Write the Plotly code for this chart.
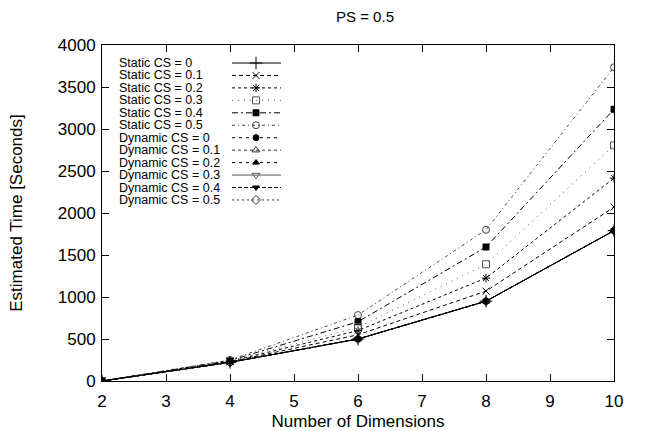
import plotly.graph_objects as go

dims = [2, 4, 6, 8, 10]
static_cs0 = [0, 222, 500, 950, 1790]
static_cs01 = [0, 228, 550, 1070, 2070]
static_cs02 = [0, 233, 600, 1225, 2415]
static_cs03 = [0, 238, 640, 1390, 2805]
static_cs04 = [0, 243, 705, 1595, 3235]
static_cs05 = [0, 250, 785, 1800, 3735]
dynamic_cs0 = [0, 222, 500, 950, 1790]
dynamic_cs01 = [0, 222, 500, 950, 1790]
dynamic_cs02 = [0, 222, 500, 950, 1790]
dynamic_cs03 = [0, 222, 500, 950, 1790]
dynamic_cs04 = [0, 222, 500, 950, 1790]
dynamic_cs05 = [0, 222, 500, 950, 1790]

labels = ["Static CS = 0", "Static CS = 0.1", "Static CS = 0.2", "Static CS = 0.3",
          "Static CS = 0.4", "Static CS = 0.5", "Dynamic CS = 0", "Dynamic CS = 0.1",
          "Dynamic CS = 0.2", "Dynamic CS = 0.3", "Dynamic CS = 0.4", "Dynamic CS = 0.5"]
series = [static_cs0, static_cs01, static_cs02, static_cs03, static_cs04, static_cs05,
          dynamic_cs0, dynamic_cs01, dynamic_cs02, dynamic_cs03, dynamic_cs04, dynamic_cs05]

styles = [
    ("solid", "cross-thin", "#000", 9),
    ("4px,3px", "x-thin", "#000", 7),
    ("3px,3px", "asterisk", "#000", 7),
    ("1px,5px", "square-open", "#555", 7),
    ("6px,3px,2px,3px", "square", "#000", 6),
    ("3px,3px,1px,3px", "circle-open", "#444", 7),
    ("3px,4px", "circle", "#000", 6),
    ("3px,3px", "triangle-up-open", "#333", 7),
    ("3px,4px", "triangle-up", "#000", 6),
    ("solid", "triangle-down-open", "#555", 7),
    ("4px,2px", "triangle-down", "#000", 6),
    ("2px,3px", "diamond-open", "#333", 7),
]

fig = go.Figure()
for i in range(11, -1, -1):
    dash, sym, col, sz = styles[i]
    fig.add_trace(go.Scatter(
        x=dims, y=series[i], mode="lines+markers", name=labels[i],
        line=dict(color=col, width=1, dash=dash),
        marker=dict(symbol=sym, size=sz, color=col, line=dict(color=col, width=1)),
        showlegend=False))

# custom legend (text left, sample right) on overlay axes in pixel-like units
L, R, T, B = 102, 614, 45, 381
for i, lab in enumerate(labels):
    dash, sym, col, sz = styles[i]
    py = 63 + i * 12.45
    yv = B - py
    fig.add_trace(go.Scatter(
        x=[232 - L, 281 - L], y=[yv, yv], mode="lines", xaxis="x2", yaxis="y2",
        line=dict(color=col, width=1, dash=dash), showlegend=False, hoverinfo="skip"))
    fig.add_trace(go.Scatter(
        x=[256 - L], y=[yv], mode="markers", xaxis="x2", yaxis="y2",
        marker=dict(symbol=sym, size=sz, color=col, line=dict(color=col, width=1)),
        showlegend=False, hoverinfo="skip"))
    fig.add_annotation(x=117 - L, y=yv, xref="x2", yref="y2", text=lab,
                       showarrow=False, xanchor="left", yanchor="middle",
                       font=dict(size=12.5, color="#000"))

fig.update_layout(
    width=645, height=431,
    margin=dict(l=L, r=645 - R, t=T, b=431 - B, autoexpand=False),
    paper_bgcolor="white", plot_bgcolor="white",
    font=dict(family="Liberation Sans, Arial, sans-serif", color="#000"),
    title=dict(text="PS = 0.5", x=365 / 645, xanchor="center", y=1 - 17 / 431,
               yanchor="middle", font=dict(size=15)),
    xaxis=dict(range=[2, 10], tickvals=[2, 3, 4, 5, 6, 7, 8, 9, 10], automargin=False,
               ticks="inside", ticklen=7, tickcolor="#000", mirror="ticks",
               showline=True, linecolor="#000", linewidth=1, showgrid=False,
               zeroline=False, tickfont=dict(size=17), ticklabelstandoff=5,
               title=dict(text="Number of Dimensions", font=dict(size=17), standoff=10)),
    yaxis=dict(range=[0, 4000], tickvals=list(range(0, 4001, 500)), automargin=False,
               ticks="inside", ticklen=7, tickcolor="#000", mirror="ticks",
               showline=True, linecolor="#000", linewidth=1, showgrid=False,
               zeroline=False, tickfont=dict(size=17), ticklabelstandoff=2,
               title=dict(text="Estimated Time [Seconds]", font=dict(size=17), standoff=30)),
    xaxis2=dict(overlaying="x", range=[0, R - L], visible=False, fixedrange=True),
    yaxis2=dict(overlaying="y", range=[0, B - T], visible=False, fixedrange=True),
)

fig.write_html("out.html", config={"displayModeBar": False},
               post_script="document.body.style.margin='0';")
